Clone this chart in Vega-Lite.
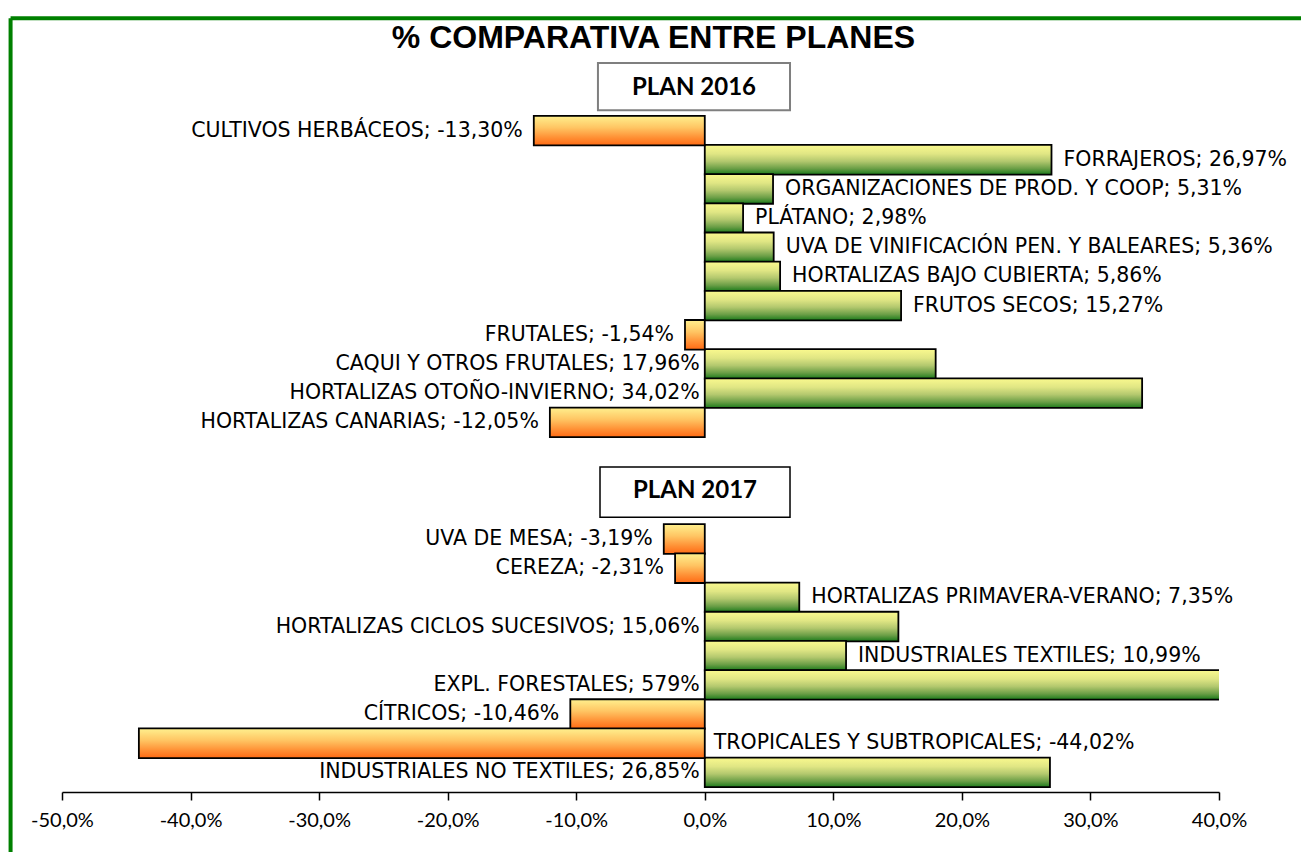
{
  "$schema": "https://vega.github.io/schema/vega-lite/v6.json",
  "width": 1157,
  "height": 681,
  "autosize": {"type": "none"},
  "padding": {"left": 62, "top": 111, "right": 82, "bottom": 60},
  "background": "white",
  "config": {"view": {"stroke": null}},
  "title": {
    "text": "% COMPARATIVA ENTRE PLANES",
    "font": "Liberation Sans",
    "fontSize": 32,
    "fontWeight": "bold",
    "color": "black",
    "anchor": "middle",
    "baseline": "alphabetic",
    "dx": 13,
    "offset": -64
  },
  "datasets": {
    "barras": [
      {"orden": 1, "plan": "PLAN 2016", "v": -13.30, "lado": "izq", "etiqueta": "CULTIVOS HERBÁCEOS; -13,30%"},
      {"orden": 2, "plan": "PLAN 2016", "v": 26.97, "lado": "der", "etiqueta": "FORRAJEROS; 26,97%"},
      {"orden": 3, "plan": "PLAN 2016", "v": 5.31, "lado": "der", "etiqueta": "ORGANIZACIONES DE PROD. Y COOP; 5,31%"},
      {"orden": 4, "plan": "PLAN 2016", "v": 2.98, "lado": "der", "etiqueta": "PLÁTANO; 2,98%"},
      {"orden": 5, "plan": "PLAN 2016", "v": 5.36, "lado": "der", "etiqueta": "UVA DE VINIFICACIÓN PEN. Y BALEARES; 5,36%"},
      {"orden": 6, "plan": "PLAN 2016", "v": 5.86, "lado": "der", "etiqueta": "HORTALIZAS BAJO CUBIERTA; 5,86%"},
      {"orden": 7, "plan": "PLAN 2016", "v": 15.27, "lado": "der", "etiqueta": "FRUTOS SECOS; 15,27%"},
      {"orden": 8, "plan": "PLAN 2016", "v": -1.54, "lado": "izq", "etiqueta": "FRUTALES; -1,54%"},
      {"orden": 9, "plan": "PLAN 2016", "v": 17.96, "lado": "izq", "etiqueta": "CAQUI Y OTROS FRUTALES; 17,96%"},
      {"orden": 10, "plan": "PLAN 2016", "v": 34.02, "lado": "izq", "etiqueta": "HORTALIZAS OTOÑO-INVIERNO; 34,02%"},
      {"orden": 11, "plan": "PLAN 2016", "v": -12.05, "lado": "izq", "etiqueta": "HORTALIZAS CANARIAS;  -12,05%"},
      {"orden": 15, "plan": "PLAN 2017", "v": -3.19, "lado": "izq", "etiqueta": "UVA DE MESA; -3,19%"},
      {"orden": 16, "plan": "PLAN 2017", "v": -2.31, "lado": "izq", "etiqueta": "CEREZA; -2,31%"},
      {"orden": 17, "plan": "PLAN 2017", "v": 7.35, "lado": "der", "etiqueta": "HORTALIZAS PRIMAVERA-VERANO;  7,35%"},
      {"orden": 18, "plan": "PLAN 2017", "v": 15.06, "lado": "izq", "etiqueta": "HORTALIZAS CICLOS SUCESIVOS; 15,06%"},
      {"orden": 19, "plan": "PLAN 2017", "v": 10.99, "lado": "der", "etiqueta": "INDUSTRIALES TEXTILES; 10,99%"},
      {"orden": 20, "plan": "PLAN 2017", "v": 579, "lado": "izq", "etiqueta": "EXPL. FORESTALES; 579%"},
      {"orden": 21, "plan": "PLAN 2017", "v": -10.46, "lado": "izq", "etiqueta": "CÍTRICOS; -10,46%"},
      {"orden": 22, "plan": "PLAN 2017", "v": -44.02, "lado": "der", "etiqueta": "TROPICALES Y SUBTROPICALES; -44,02%"},
      {"orden": 23, "plan": "PLAN 2017", "v": 26.85, "lado": "izq", "etiqueta": "INDUSTRIALES NO TEXTILES; 26,85%"}
    ]
  },
  "layer": [
    {
      "data": {"name": "barras"},
      "transform": [{"filter": "datum.v >= 0"}],
      "mark": {
        "type": "bar",
        "height": 29.6,
        "clip": true,
        "stroke": "black",
        "strokeWidth": 1.8,
        "fill": {
          "gradient": "linear", "x1": 0, "y1": 0, "x2": 0, "y2": 1,
          "stops": [
            {"offset": 0, "color": "#FAF98E"},
            {"offset": 0.3, "color": "#E0E684"},
            {"offset": 0.55, "color": "#B3C86E"},
            {"offset": 0.8, "color": "#6A9E46"},
            {"offset": 1, "color": "#1A7A1A"}
          ]
        }
      },
      "encoding": {
        "y": {
          "field": "orden",
          "type": "quantitative",
          "scale": {"domain": [0.5, 23.5], "reverse": true, "nice": false, "zero": false},
          "axis": null
        },
        "x": {
          "field": "v",
          "type": "quantitative",
          "scale": {"domain": [-50, 40], "nice": false, "zero": false},
          "axis": {
            "values": [-50, -40, -30, -20, -10, 0, 10, 20, 30, 40],
            "labelExpr": "(datum.value < 0 ? '-' : '') + replace(format(abs(datum.value), '.1f'), '.', ',') + '%'",
            "title": null,
            "grid": false,
            "domainColor": "black",
            "domainWidth": 1.5,
            "tickColor": "black",
            "tickWidth": 1.5,
            "tickSize": 8,
            "labelFont": "Lato",
            "labelFontSize": 20,
            "labelColor": "black",
            "labelPadding": 10,
            "labelFlush": false,
            "labelOverlap": false
          }
        },
        "x2": {"datum": 0}
      }
    },
    {
      "data": {"name": "barras"},
      "transform": [{"filter": "datum.v < 0"}],
      "mark": {
        "type": "bar",
        "height": 29.6,
        "stroke": "black",
        "strokeWidth": 1.8,
        "fill": {
          "gradient": "linear", "x1": 0, "y1": 0, "x2": 0, "y2": 1,
          "stops": [
            {"offset": 0, "color": "#FFF08E"},
            {"offset": 0.4, "color": "#FFC563"},
            {"offset": 0.75, "color": "#FF8E33"},
            {"offset": 1, "color": "#FF6A14"}
          ]
        }
      },
      "encoding": {
        "y": {"field": "orden", "type": "quantitative"},
        "x": {"field": "v", "type": "quantitative"},
        "x2": {"datum": 0}
      }
    },
    {
      "data": {"values": [{"marco": "borde"}]},
      "mark": {"type": "rule", "color": "#008000", "strokeWidth": 4},
      "encoding": {
        "x": {"datum": -54.0, "type": "quantitative"},
        "y": {"datum": -2.85, "type": "quantitative"},
        "y2": {"datum": 40}
      }
    },
    {
      "data": {"values": [{"marco": "borde"}]},
      "mark": {"type": "rule", "color": "#008000", "strokeWidth": 4},
      "encoding": {
        "x": {"datum": -54.0, "type": "quantitative"},
        "x2": {"datum": 60},
        "y": {"datum": -2.85, "type": "quantitative"}
      }
    },
    {
      "data": {"values": [{"plan": "PLAN 2016"}]},
      "mark": {"type": "rect", "fill": "white", "stroke": "#7f7f7f", "strokeWidth": 2},
      "encoding": {
        "x": {"datum": -8.31, "type": "quantitative"},
        "x2": {"datum": 6.63},
        "y": {"datum": -1.32, "type": "quantitative"},
        "y2": {"datum": 0.30}
      }
    },
    {
      "data": {"values": [{"plan": "PLAN 2016"}]},
      "mark": {"type": "text", "font": "Lato", "fontSize": 24, "fontWeight": "bold", "color": "black", "align": "center", "baseline": "middle"},
      "encoding": {
        "x": {"datum": -0.84, "type": "quantitative"},
        "y": {"datum": -0.45, "type": "quantitative"},
        "text": {"field": "plan"}
      }
    },
    {
      "data": {"values": [{"plan": "PLAN 2017"}]},
      "mark": {"type": "rect", "fill": "white", "stroke": "black", "strokeWidth": 1.5},
      "encoding": {
        "x": {"datum": -8.15, "type": "quantitative"},
        "x2": {"datum": 6.63},
        "y": {"datum": 12.53, "type": "quantitative"},
        "y2": {"datum": 14.25}
      }
    },
    {
      "data": {"values": [{"plan": "PLAN 2017"}]},
      "mark": {"type": "text", "font": "Lato", "fontSize": 24, "fontWeight": "bold", "color": "black", "align": "center", "baseline": "middle"},
      "encoding": {
        "x": {"datum": -0.76, "type": "quantitative"},
        "y": {"datum": 13.37, "type": "quantitative"},
        "text": {"field": "plan"}
      }
    },
    {
      "data": {"name": "barras"},
      "transform": [{"filter": "datum.lado == 'izq' && datum.v < 0"}],
      "mark": {"type": "text", "font": "DejaVu Sans", "fontSize": 20.5, "color": "black", "align": "right", "baseline": "middle", "dx": -11},
      "encoding": {
        "y": {"field": "orden", "type": "quantitative"},
        "x": {"field": "v", "type": "quantitative"},
        "text": {"field": "etiqueta"}
      }
    },
    {
      "data": {"name": "barras"},
      "transform": [{"filter": "datum.lado == 'izq' && datum.v >= 0"}],
      "mark": {"type": "text", "font": "DejaVu Sans", "fontSize": 20.5, "color": "black", "align": "right", "baseline": "middle", "dx": -5},
      "encoding": {
        "y": {"field": "orden", "type": "quantitative"},
        "x": {"datum": 0, "type": "quantitative"},
        "text": {"field": "etiqueta"}
      }
    },
    {
      "data": {"name": "barras"},
      "transform": [{"filter": "datum.lado == 'der' && datum.v >= 0"}],
      "mark": {"type": "text", "font": "DejaVu Sans", "fontSize": 20.5, "color": "black", "align": "left", "baseline": "middle", "dx": 12},
      "encoding": {
        "y": {"field": "orden", "type": "quantitative"},
        "x": {"field": "v", "type": "quantitative"},
        "text": {"field": "etiqueta"}
      }
    },
    {
      "data": {"name": "barras"},
      "transform": [{"filter": "datum.lado == 'der' && datum.v < 0"}],
      "mark": {"type": "text", "font": "DejaVu Sans", "fontSize": 20.5, "color": "black", "align": "left", "baseline": "middle", "dx": 9},
      "encoding": {
        "y": {"field": "orden", "type": "quantitative"},
        "x": {"datum": 0, "type": "quantitative"},
        "text": {"field": "etiqueta"}
      }
    }
  ]
}
